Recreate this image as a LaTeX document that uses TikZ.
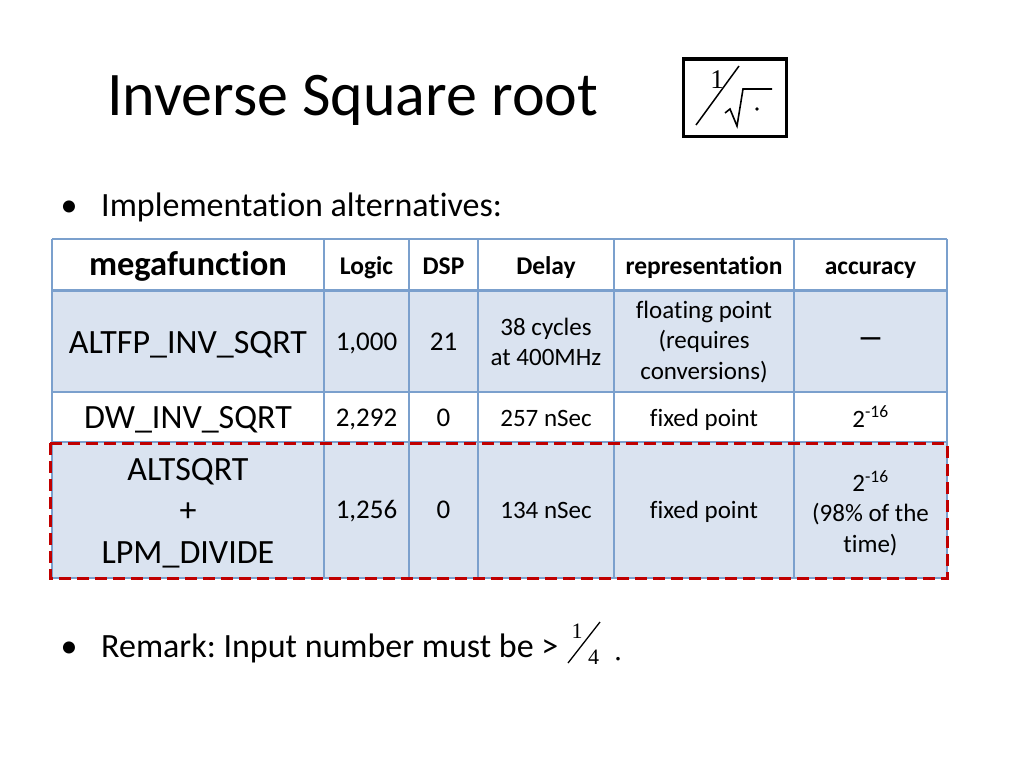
\documentclass[tikz,border=0pt]{standalone}
\usepackage{fontspec}
\setmainfont{Carlito}[Ligatures=NoCommon]
\newfontfamily\serifnum{Liberation Serif}
\frenchspacing
\definecolor{tabline}{HTML}{7BA0CD}
\definecolor{tabfill}{HTML}{DAE3F0}
\definecolor{markred}{HTML}{C00000}
\tikzset{
  cell/.style={align=center, inner sep=0pt, font=\fontsize{25}{30.5}\selectfont},
  numcell/.style={anchor=base, inner sep=0pt, font=\fontsize{27}{32}\selectfont},
  namecell/.style={align=center, inner sep=0pt, font=\fontsize{34}{41.5}\selectfont},
  headcell/.style={anchor=base, inner sep=0pt, font=\fontsize{25.5}{30}\selectfont\bfseries},
  bodytext/.style={anchor=base west, inner sep=0pt, font=\fontsize{34}{40}\selectfont},
  grid/.style={draw=tabline, line width=1.5pt},
}
\begin{document}
\begin{tikzpicture}[x=1pt,y=-1pt]
\useasboundingbox (0,0) rectangle (1024,768);
% title and symbol
\node[anchor=base west, inner sep=0pt, font=\fontsize{62}{70}\selectfont] (title) at (107,115) {Inverse Square root};
\node[draw, line width=3pt, minimum width=103pt, minimum height=77pt] (symbox) at (734.5,97.5) {};
\node[anchor=base, inner sep=0pt, font=\serifnum\fontsize{27}{30}\selectfont] (one) at (717,88) {1};
\draw[line width=1.5pt] (696,125) -- (739,66);
\draw[line width=1.6pt] (725,113) -- (730,109) -- (737,126) -- (743,89) -- (772,89);
\fill (757,109) circle (1.8pt);
% bullets
\node[bodytext, anchor=base] (dot1) at (69,216) {•};
\node[bodytext] (alt) at (101,216) {Implementation alternatives:};
\node[bodytext, anchor=base] (dot2) at (69,657) {•};
\node[bodytext] (remark) at (101,657) {Remark: Input number must be >};
\node[anchor=base, inner sep=0pt, font=\serifnum\fontsize{22}{26}\selectfont] (num) at (577,638) {1};
\node[anchor=base, inner sep=0pt, font=\serifnum\fontsize{22}{26}\selectfont] (den) at (593.5,664) {4};
\draw[line width=1.3pt] (568,663) -- (600,622);
\node[anchor=base, inner sep=0pt, font=\serifnum\fontsize{30}{34}\selectfont] (stop) at (618,660) {.};
% table
\fill[tabfill] (52,290) rectangle (947,392);
\fill[tabfill] (52,442) rectangle (947,578);
\foreach \y in {239,392,442,578}
  \draw[grid] (52,\y) -- (947,\y);
\foreach \x in {52,324,409,478,614,794,947}
  \draw[grid] (\x,239) -- (\x,578);
\draw[grid, line width=3pt] (52,290) -- (947,290);
% header
\node[headcell, font=\fontsize{34.5}{40}\selectfont\bfseries] (hmega) at (188,275) {megafunction};
\node[headcell] (hlogic) at (366.5,274) {Logic};
\node[headcell] (hdsp) at (443.5,274) {DSP};
\node[headcell] (hdelay) at (546,274) {Delay};
\node[headcell] (hrep) at (704,274) {representation};
\node[headcell] (hacc) at (870.5,274) {accuracy};
% ALTFP row
\node[namecell, anchor=base] (altfp) at (188,353) {ALTFP\_INV\_SQRT};
\node[numcell] (altfplogic) at (366.5,350) {1,000};
\node[numcell] (altfpdsp) at (443.5,350) {21};
\node[cell] (altfpdelay) at (546,342) {38 cycles\\at 400MHz};
\node[cell] (altfprep) at (704,342) {floating point\\(requires\\conversions)};
\node[cell, font=\fontsize{27}{32}\bfseries] (altfpacc) at (870.5,342) {—};
% DW row
\node[namecell, anchor=base] (dw) at (188,428) {DW\_INV\_SQRT};
\node[numcell] (dwlogic) at (366.5,426) {2,292};
\node[numcell] (dwdsp) at (443.5,426) {0};
\node[cell, anchor=base] (dwdelay) at (546,426) {257 nSec};
\node[cell, anchor=base] (dwrep) at (704,426) {fixed point};
\node[cell, anchor=base] (dwacc) at (870.5,427) {2\textsuperscript{-16}};
% ALTSQRT row
\node[namecell] (altsqrt) at (188,513) {ALTSQRT\\+\\LPM\_DIVIDE};
\node[numcell] (sqlogic) at (366.5,518) {1,256};
\node[numcell] (sqdsp) at (443.5,518) {0};
\node[cell, anchor=base] (sqdelay) at (546,518) {134 nSec};
\node[cell, anchor=base] (sqrep) at (704,518) {fixed point};
\node[cell] (sqacc) at (870.5,513) {2\textsuperscript{-16}\\(98\% of the\\time)};
\draw[markred, line width=3pt, dash pattern=on 12pt off 6pt] (50,443) rectangle (947,578);
\end{tikzpicture}
\end{document}
